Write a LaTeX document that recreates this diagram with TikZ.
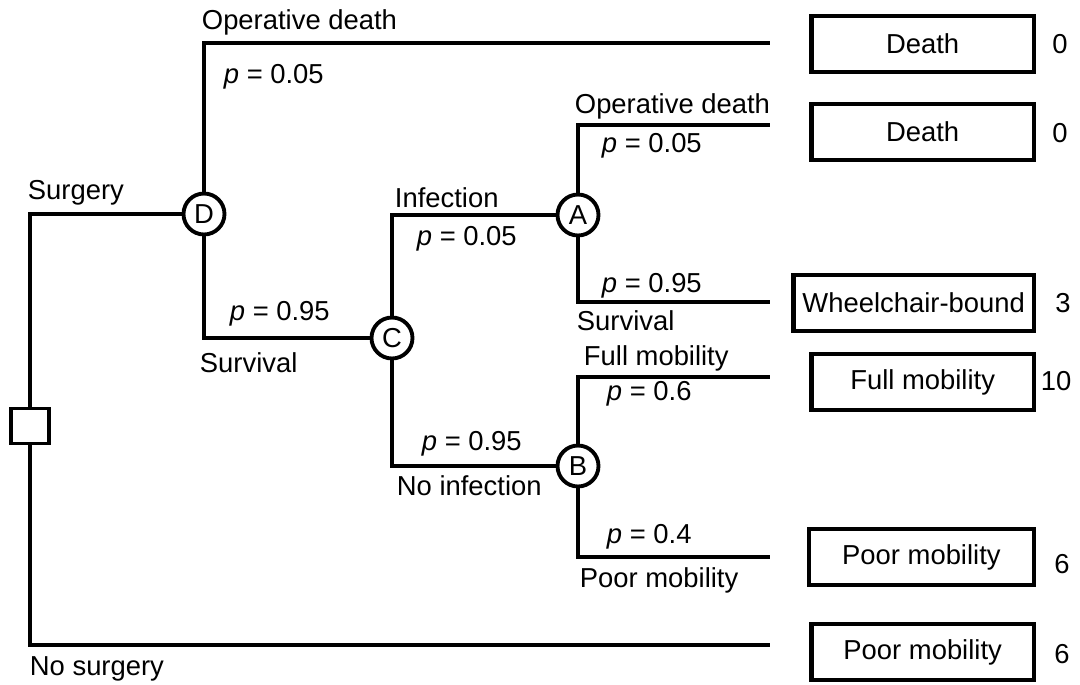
\documentclass[tikz,border=0pt]{standalone}
\usepackage{fontspec}
\setmainfont{Liberation Sans}
\usetikzlibrary{positioning}

\begin{document}
\begin{tikzpicture}[x=0.02cm, y=-0.02cm, line width=2.2pt,
    font=\fontsize{15.6}{18}\selectfont,
    chance/.style={draw, circle, inner sep=0pt, minimum size=0.82cm},
    choice/.style={draw, rectangle, inner sep=0pt, minimum width=0.75cm, minimum height=0.70cm},
    outcome/.style={draw, rectangle, line width=2.4pt, inner sep=0pt, minimum height=1.12cm},
    lbl/.style={anchor=base west, inner sep=0pt}]
  \useasboundingbox (0,0) rectangle (1080,684);

  % decision and chance nodes
  \node[choice] (dec) at (30,426) {};
  \node[chance] (D) at (204,214) {D};
  \node[chance] (C) at (392,338) {C};
  \node[chance] (A) at (578,215) {A};
  \node[chance] (B) at (578,466) {B};

  % outcomes: number/line y/box y/width/text/value x/value baseline/value
  \foreach \n/\ly/\by/\w/\txt/\vx/\vb/\val in {1/43/44/4.45/Death/1060/53/0,
      2/125/132/4.45/Death/1060/142/0,
      3/302/303/4.81/Wheelchair-bound/1063/312/3,
      4/377/382/4.45/Full mobility/1056/390/10,
      5/557/557/4.5/Poor mobility/1062/573/6,
      6/645/652/4.45/Poor mobility/1062/663/6}
  {
    \coordinate (e\n) at (770,\ly);
    \node[outcome, minimum width=\w cm, anchor=east] (o\n) at (1036,\by) {\txt};
    \node[anchor=base, inner sep=0pt] (v\n) at (\vx,\vb) {\val};
  }

  % branches
  \draw (dec.north) |- (D);
  \draw (dec.south) |- (e6);
  \draw (D.north) |- (e1);
  \draw (D.south) |- (C);
  \draw (C.north) |- (A);
  \draw (C.south) |- (B);
  \draw (A.north) |- (e2);
  \draw (A.south) |- (e3);
  \draw (B.north) |- (e4);
  \draw (B.south) |- (e5);

  % branch labels
  \node[lbl] (surg) at (26,199) {Surgery};
  \node[lbl] (nosurg) at (28,675) {No surgery};
  \node[lbl] (opD) at (200,29) {Operative death};
  \node[lbl] (pD1) at (222,83) {\textit{p} = 0.05};
  \node[lbl] (pD2) at (228,320) {\textit{p} = 0.95};
  \node[lbl] (survD) at (198,372) {Survival};
  \node[lbl] (inf) at (393,207) {Infection};
  \node[lbl] (pC1) at (415,245) {\textit{p} = 0.05};
  \node[lbl] (pC2) at (420,450) {\textit{p} = 0.95};
  \node[lbl] (noinf) at (395,495) {No infection};
  \node[lbl] (opA) at (573,113) {Operative death};
  \node[lbl] (pA1) at (600,152) {\textit{p} = 0.05};
  \node[lbl] (pA2) at (600,292) {\textit{p} = 0.95};
  \node[lbl] (survA) at (575,330) {Survival};
  \node[lbl] (fullB) at (582,365) {Full mobility};
  \node[lbl] (pB1) at (605,400) {\textit{p} = 0.6};
  \node[lbl] (pB2) at (605,543) {\textit{p} = 0.4};
  \node[lbl] (poorB) at (578,587) {Poor mobility};
\end{tikzpicture}
\end{document}
